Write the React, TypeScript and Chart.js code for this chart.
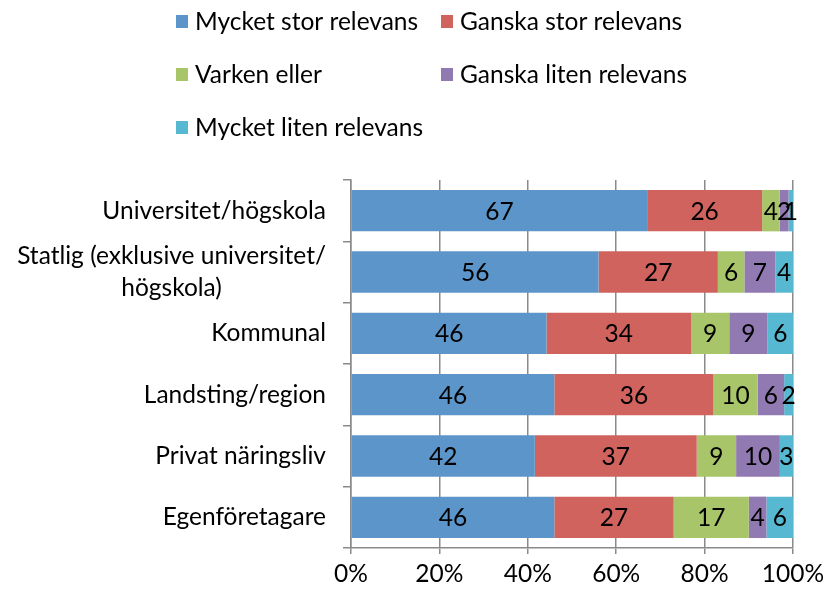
import React, { useEffect, useRef } from "react";
import { Chart, registerables } from "chart.js";
Chart.register(...registerables);

const categories: (string | string[])[] = [
  "Universitet/högskola",
  ["Statlig (exklusive universitet/", "högskola)"],
  "Kommunal",
  "Landsting/region",
  "Privat näringsliv",
  "Egenföretagare",
];
const seriesNames = [
  "Mycket stor relevans",
  "Ganska stor relevans",
  "Varken eller",
  "Ganska liten relevans",
  "Mycket liten relevans",
];
const mycketStor = [67, 56, 46, 46, 42, 46];
const ganskaStor = [26, 27, 34, 36, 37, 27];
const varkenEller = [4, 6, 9, 10, 9, 17];
const ganskaLiten = [2, 7, 9, 6, 10, 4];
const mycketLiten = [1, 4, 6, 2, 3, 6];
const xTickLabels = ["0%", "20%", "40%", "60%", "80%", "100%"];
const seriesColors = ["#5b95c9", "#d0635e", "#a9c56a", "#917ab2", "#57b8d1"];

const FONT_FAMILY = "Lato, 'Open Sans', sans-serif";
const FONT_SIZE = 24.5;

const allSeries = [mycketStor, ganskaStor, varkenEller, ganskaLiten, mycketLiten];
const rowTotals = categories.map((_, i) => allSeries.reduce((s, arr) => s + arr[i], 0));

const legendPlugin = {
  id: "customLegend",
  afterDraw(chart: any) {
    const ctx = chart.ctx;
    const cols = [176, 441];
    const rows = [21, 74, 127];
    ctx.save();
    ctx.font = `${FONT_SIZE}px ${FONT_FAMILY}`;
    ctx.textBaseline = "middle";
    ctx.textAlign = "left";
    chart.data.datasets.forEach((ds: any, i: number) => {
      const x = cols[i % 2];
      const y = rows[Math.floor(i / 2)];
      ctx.fillStyle = ds.backgroundColor;
      ctx.fillRect(x, y - 6, 12, 13);
      ctx.fillStyle = "#000";
      ctx.fillText(ds.label, x + 19, y + 1);
    });
    ctx.restore();
  },
};

const catLabelPlugin = {
  id: "catLabels",
  afterDraw(chart: any) {
    const ctx = chart.ctx;
    const yScale = chart.scales.y;
    const right = chart.chartArea.left - 25;
    ctx.save();
    ctx.font = `${FONT_SIZE}px ${FONT_FAMILY}`;
    ctx.textBaseline = "middle";
    ctx.fillStyle = "#000";
    const lineH = 32;
    (chart.data.labels as any[]).forEach((lab, i) => {
      const y = yScale.getPixelForValue(i);
      const lines = Array.isArray(lab) ? lab : [lab];
      const w = Math.max(...lines.map((l: string) => ctx.measureText(l).width));
      const cx = right - w / 2;
      ctx.textAlign = "center";
      lines.forEach((l: string, k: number) => {
        const ly = y + (k - (lines.length - 1) / 2) * lineH;
        ctx.fillText(l, cx, ly);
      });
    });
    ctx.restore();
  },
};

const valueLabelPlugin = {
  id: "valueLabels",
  afterDatasetsDraw(chart: any) {
    const ctx = chart.ctx;
    ctx.save();
    ctx.font = `${FONT_SIZE}px ${FONT_FAMILY}`;
    ctx.textBaseline = "middle";
    ctx.textAlign = "center";
    ctx.fillStyle = "#000";
    chart.data.datasets.forEach((ds: any, di: number) => {
      const meta = chart.getDatasetMeta(di);
      meta.data.forEach((bar: any, i: number) => {
        const raw = allSeries[di][i];
        const cx = (bar.x + bar.base) / 2;
        ctx.fillText(String(raw), cx, bar.y + 1);
      });
    });
    ctx.restore();
  },
};

export default function App() {
  const ref = useRef<HTMLCanvasElement | null>(null);
  useEffect(() => {
    if (!ref.current) return;
    const gray = "#8a8a8a";
    const chart = new Chart(ref.current, {
      type: "bar",
      data: {
        labels: categories as any,
        datasets: allSeries.map((arr, di) => ({
          label: seriesNames[di],
          data: arr.map((v, i) => (v / rowTotals[i]) * 100),
          backgroundColor: seriesColors[di],
          borderWidth: 0,
          categoryPercentage: 1,
          barPercentage: 0.675,
        })),
      },
      options: {
        indexAxis: "y",
        animation: false,
        responsive: false,
        maintainAspectRatio: false,
        layout: { padding: { top: 180, right: 32, left: 0, bottom: 0 } },
        plugins: {
          legend: { display: false },
          tooltip: { enabled: false },
        },
        scales: {
          x: {
            stacked: true,
            min: 0,
            max: 100,
            afterFit: (s: any) => {
              s.height = 47;
              s.paddingLeft = 0;
              s.paddingRight = 0;
            },
            afterBuildTicks: (s: any) => {
              s.ticks = xTickLabels.map((_, i) => ({ value: i * 20 }));
            },
            ticks: {
              stepSize: 20,
              color: "#000",
              padding: 5,
              font: { size: FONT_SIZE, family: FONT_FAMILY },
              callback: (_v: any, i: number) => xTickLabels[i],
              maxRotation: 0,
            },
            grid: { color: gray, lineWidth: 1.5, tickLength: 6, drawOnChartArea: true },
            border: { color: gray, width: 1.5 },
          },
          y: {
            stacked: true,
            afterFit: (s: any) => {
              s.width = 351;
              s.paddingTop = 0;
              s.paddingBottom = 0;
            },
            ticks: { display: false },
            grid: { offset: true, color: gray, lineWidth: 1.5, tickLength: 8, drawOnChartArea: false },
            border: { color: gray, width: 1.5 },
          },
        },
      },
      plugins: [legendPlugin, catLabelPlugin, valueLabelPlugin],
    } as any);
    return () => chart.destroy();
  }, []);
  return (
    <div style={{ position: "absolute", left: 0, top: 0, width: 825, height: 595 }}>
      <canvas ref={ref} width={825} height={595} style={{ width: 825, height: 595 }} />
    </div>
  );
}
